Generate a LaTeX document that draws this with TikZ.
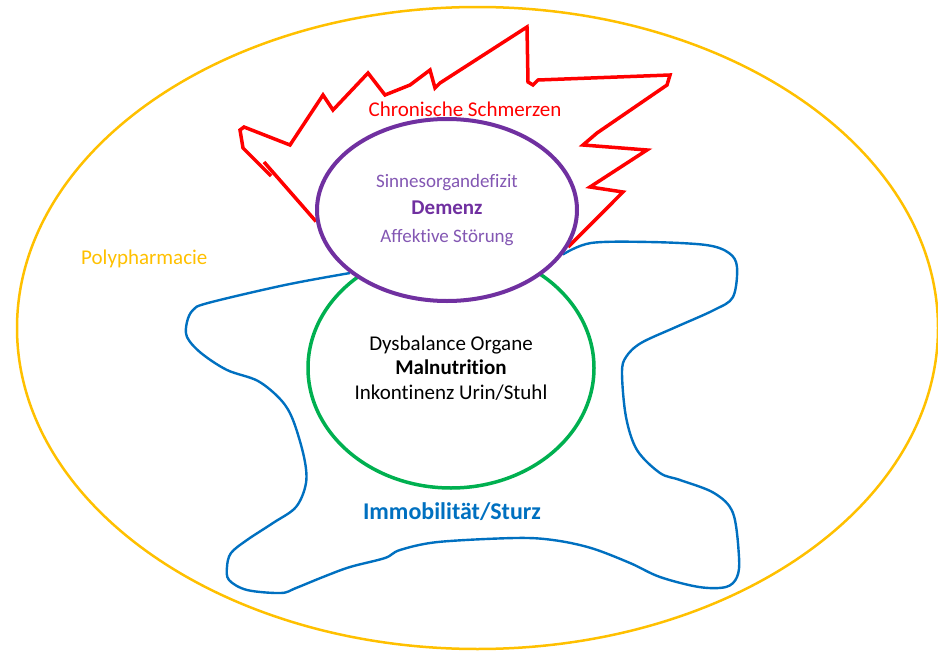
\documentclass[tikz,border=0pt]{standalone}
\usepackage{fontspec}
\setmainfont{Carlito}[Ligatures=CommonOff]
\usetikzlibrary{shapes.geometric,positioning,backgrounds}
\definecolor{gold}{HTML}{FFC000}
\definecolor{painred}{HTML}{FF0000}
\definecolor{violet}{HTML}{7030A0}
\definecolor{lightviolet}{HTML}{8357B3}
\definecolor{organgreen}{HTML}{00B050}
\definecolor{fallblue}{HTML}{0070C0}

\begin{document}
\begin{tikzpicture}
  [
  x=1pt, y=-1pt, line join=round, line cap=round,
  ring/.style={ellipse, inner sep=0pt, align=center},
  label/.style={inner sep=0pt, anchor=base},
  ]
  \useasboundingbox (0,0) rectangle (938,653);

  \node[ring, draw=gold, line width=2.5pt, minimum width=921pt, minimum height=642pt] (poly) at (477.5,328) {};
  \node[label, anchor=base west, text=gold, font=\fontsize{21}{25}\selectfont] (polytext) at (81,264) {Polypharmacie};
  \node[label, text=painred, font=\fontsize{21}{25}\selectfont] (paintext) at (465,116) {Chronische Schmerzen};
  \node[label, text=fallblue, font=\fontsize{24}{28}\bfseries] (falltext) at (452,519) {Immobilität/Sturz};

  \node[ring, draw=organgreen, line width=3.5pt, minimum width=286pt, minimum height=240pt,
    font=\fontsize{21}{24.5}\selectfont] (organe) at (451,368)
    {Dysbalance Organe\\\textbf{Malnutrition}\\Inkontinenz Urin/Stuhl};
  \node[ring, draw=violet, fill=white, line width=4pt, minimum width=260pt, minimum height=182pt,
    text=lightviolet, font=\fontsize{19}{27.5}\selectfont] (demenz) at (447,210)
    {Sinnesorgandefizit\\{\fontsize{21}{27.5}\selectfont\bfseries\color{violet}Demenz}\\Affektive Störung};

  \begin{scope}[on background layer]
    \draw[painred, line width=3.5pt]
      (264,162) -- (demenz.185)
      (271,176) -- (243,148) -- (240,130) -- (244,127) -- (290,145) -- (323,95) -- (333,110)
      -- (368,73) -- (385,95) -- (410,85) -- (430,70) -- (435,88) -- (440,83) -- (527,27)
      -- (528,82) -- (533,85) -- (538,80) -- (670,75) -- (667,85) -- (597,133) -- (583,145)
      -- (647,150) -- (590,187) -- (623,192) -- (demenz.343);
    \draw[fallblue, line width=2.4pt] plot[smooth, tension=0.55] coordinates {
      (demenz.213) (285,285) (208,303) (193,310) (187,322) (187,337) (201,353) (227,370)
      (258,381) (281,400) (293,420) (304,457) (306,483) (296,507) (273,523) (247,540)
      (231,553) (227,567) (229,580) (247,590) (281,593) (296,588) (323,577) (350,567)
      (385,558) (400,550) (438,542) (515,538) (553,540) (591,548) (630,563) (660,577)
      (699,587) (726,587) (737,577) (739,557) (733,513) (714,493) (680,480) (660,473)
      (637,450) (626,417) (622,373) (626,357) (641,343) (676,327) (714,310) (733,297)
      (737,267) (729,253) (706,245) (649,242) (591,243) (demenz.339)};
  \end{scope}
\end{tikzpicture}
\end{document}
